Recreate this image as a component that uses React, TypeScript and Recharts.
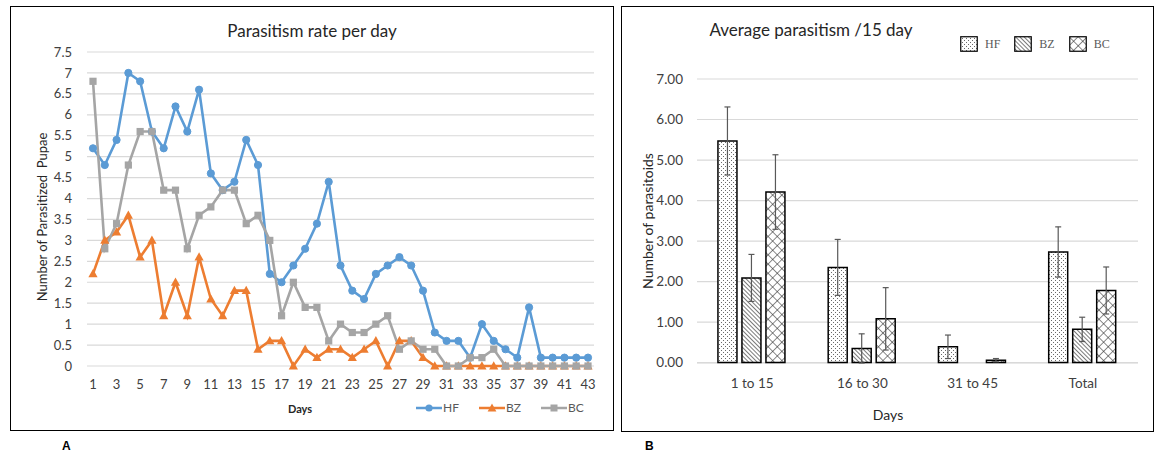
import React from 'react';
import { LineChart, Line, BarChart, Bar, ErrorBar, XAxis, YAxis, CartesianGrid } from 'recharts';

// panel A: parasitized pupae per day
const days = ['1', '2', '3', '4', '5', '6', '7', '8', '9', '10', '11', '12', '13', '14', '15', '16', '17', '18', '19', '20', '21', '22',
  '23', '24', '25', '26', '27', '28', '29', '30', '31', '32', '33', '34', '35', '36', '37', '38', '39', '40', '41', '42', '43'];
const hfDaily = [5.2, 4.8, 5.4, 7.0, 6.8, 5.6, 5.2, 6.2, 5.6, 6.6, 4.6, 4.2, 4.4, 5.4, 4.8, 2.2, 2.0, 2.4, 2.8, 3.4, 4.4, 2.4,
  1.8, 1.6, 2.2, 2.4, 2.6, 2.4, 1.8, 0.8, 0.6, 0.6, 0.2, 1.0, 0.6, 0.4, 0.2, 1.4, 0.2, 0.2, 0.2, 0.2, 0.2];
const bzDaily = [2.2, 3.0, 3.2, 3.6, 2.6, 3.0, 1.2, 2.0, 1.2, 2.6, 1.6, 1.2, 1.8, 1.8, 0.4, 0.6, 0.6, 0, 0.4, 0.2, 0.4, 0.4,
  0.2, 0.4, 0.6, 0, 0.6, 0.6, 0.2, 0, 0, 0, 0, 0, 0, 0, 0, 0, 0, 0, 0, 0, 0];
const bcDaily = [6.8, 2.8, 3.4, 4.8, 5.6, 5.6, 4.2, 4.2, 2.8, 3.6, 3.8, 4.2, 4.2, 3.4, 3.6, 3.0, 1.2, 2.0, 1.4, 1.4, 0.6, 1.0,
  0.8, 0.8, 1.0, 1.2, 0.4, 0.6, 0.4, 0.4, 0, 0, 0.2, 0.2, 0.4, 0, 0, 0, 0, 0, 0, 0, 0];
const dailyTicks = [0, 0.5, 1, 1.5, 2, 2.5, 3, 3.5, 4, 4.5, 5, 5.5, 6, 6.5, 7, 7.5];

// panel B: average per 15 days
const periods = ['1 to 15', '16 to 30', '31 to 45', 'Total'];
const hfMean = [5.47, 2.35, 0.39, 2.73];
const hfErr = [0.84, 0.69, 0.29, 0.62];
const bzMean = [2.09, 0.35, 0, 0.82];
const bzErr = [0.58, 0.36, 0, 0.3];
const bcMean = [4.21, 1.08, 0.06, 1.78];
const bcErr = [0.92, 0.77, 0.04, 0.58];
const avgTicks = [0, 1, 2, 3, 4, 5, 6, 7];

const dailyRows = days.map((d, i) => ({ day: d, HF: hfDaily[i], BZ: bzDaily[i], BC: bcDaily[i] }));
const periodRows = periods.map((p, i) => ({
  period: p, HF: hfMean[i], hfErr: hfErr[i], BZ: bzMean[i], bzErr: bzErr[i], BC: bcMean[i], bcErr: bcErr[i],
}));

const BLUE = '#5B9BD5';
const ORANGE = '#ED7D31';
const GRAY = '#A5A5A5';
const FONT = 'Lato, "Open Sans", sans-serif';

const circleDot = (props: any) => {
  const { cx, cy, index } = props;
  return <circle key={`hf-${index}`} cx={cx} cy={cy} r={3.6} fill={BLUE} stroke={BLUE} strokeWidth={1} />;
};
const triangleDot = (props: any) => {
  const { cx, cy, index } = props;
  return (
    <path key={`bz-${index}`} d={`M${cx},${cy - 4.8}L${cx + 4.6},${cy + 3.4}L${cx - 4.6},${cy + 3.4}Z`} fill={ORANGE} />
  );
};
const squareDot = (props: any) => {
  const { cx, cy, index } = props;
  return <rect key={`bc-${index}`} x={cx - 3.6} y={cy - 3.6} width={7.2} height={7.2} fill={GRAY} />;
};

const LineLegend = () => {
  const items = [
    { name: 'HF', color: BLUE, kind: 'circle' },
    { name: 'BZ', color: ORANGE, kind: 'tri' },
    { name: 'BC', color: GRAY, kind: 'square' },
  ];
  return (
    <div style={{ display: 'flex', gap: 20, fontFamily: FONT, fontSize: 12, color: '#595959' }}>
      {items.map((it) => (
        <div key={it.name} style={{ display: 'flex', alignItems: 'center' }}>
          <svg width={26} height={10}>
            <line x1={0} y1={5} x2={26} y2={5} stroke={it.color} strokeWidth={2.5} />
            {it.kind === 'circle' && <circle cx={13} cy={5} r={3.6} fill={it.color} />}
            {it.kind === 'tri' && <path d="M13,0.5L17.4,8.6L8.6,8.6Z" fill={it.color} />}
            {it.kind === 'square' && <rect x={9.5} y={1.5} width={7} height={7} fill={it.color} />}
          </svg>
          <span style={{ marginLeft: 1 }}>{it.name}</span>
        </div>
      ))}
    </div>
  );
};

const BarLegend = () => {
  const items = [
    { name: 'HF', fill: 'url(#patHF)' },
    { name: 'BZ', fill: 'url(#patBZ)' },
    { name: 'BC', fill: 'url(#patBC)' },
  ];
  return (
    <div style={{ display: 'flex', gap: 14, fontFamily: '"Liberation Serif", serif', fontSize: 12, color: '#595959' }}>
      {items.map((it) => (
        <div key={it.name} style={{ display: 'flex', alignItems: 'center' }}>
          <svg width={18} height={16}>
            <rect x={0.75} y={0.75} width={16.5} height={14.5} fill={it.fill} stroke="#000" strokeWidth={1.2} />
          </svg>
          <span style={{ marginLeft: 7 }}>{it.name}</span>
        </div>
      ))}
    </div>
  );
};

const abs = (left: number, top: number): React.CSSProperties => ({ position: 'absolute', left, top });

export default function App() {
  return (
    <div style={{ position: 'fixed', left: 0, top: 0, width: 1156, height: 453, background: '#fff', fontFamily: FONT, overflow: 'hidden' }}>
      {/* shared hatch patterns */}
      <svg width={0} height={0} style={{ position: 'absolute' }}>
        <defs>
          <pattern id="patHF" width={4} height={4} patternUnits="userSpaceOnUse">
            <rect width={4} height={4} fill="#fff" />
            <rect x={0} y={0} width={1} height={1} fill="#6a6a6a" />
            <rect x={2} y={2} width={1} height={1} fill="#6a6a6a" />
          </pattern>
          <pattern id="patBZ" width={3} height={3} patternUnits="userSpaceOnUse" patternTransform="rotate(-45)">
            <rect width={3} height={3} fill="#fff" />
            <line x1={0} y1={0} x2={0} y2={3} stroke="#222" strokeWidth={1.2} />
          </pattern>
          <pattern id="patBC" width={6.5} height={6.5} patternUnits="userSpaceOnUse" patternTransform="rotate(45)">
            <rect width={6.5} height={6.5} fill="#fff" />
            <line x1={0} y1={0} x2={0} y2={6.5} stroke="#2b2b2b" strokeWidth={1.1} />
            <line x1={0} y1={0} x2={6.5} y2={0} stroke="#2b2b2b" strokeWidth={1.1} />
          </pattern>
        </defs>
      </svg>

      {/* panel A */}
      <div style={abs(10, 6)}>
        <LineChart width={604} height={425} data={dailyRows} margin={{ top: 46, right: 20, left: 0, bottom: 0 }}>
          <CartesianGrid vertical={false} stroke="#D9D9D9" strokeWidth={1.2} />
          <XAxis
            dataKey="day"
            interval={1}
            height={65}
            padding={{ left: 6, right: 6 }}
            axisLine={false}
            tickLine={false}
            tickSize={0}
            tickMargin={14}
            tick={{ fill: '#404040', fontSize: 13, fontFamily: FONT }}
          />
          <YAxis
            domain={[0, 7.5]}
            ticks={dailyTicks}
            interval={0}
            width={77}
            axisLine={false}
            tickLine={false}
            tickSize={0}
            tickMargin={15}
            tick={{ fill: '#404040', fontSize: 13, fontFamily: FONT }}
          />
          <Line dataKey="HF" stroke={BLUE} strokeWidth={2.6} dot={circleDot} activeDot={false} isAnimationActive={false} />
          <Line dataKey="BZ" stroke={ORANGE} strokeWidth={2.6} dot={triangleDot} activeDot={false} isAnimationActive={false} />
          <Line dataKey="BC" stroke={GRAY} strokeWidth={2.6} dot={squareDot} activeDot={false} isAnimationActive={false} />
        </LineChart>
      </div>
      <div style={{ ...abs(416, 400) }}>
        <LineLegend />
      </div>
      <div style={{ ...abs(312, 30), transform: 'translate(-50%, -50%)', fontSize: 17, color: '#262626', whiteSpace: 'nowrap' }}>
        Parasitism rate per day
      </div>
      <div style={{ ...abs(42, 217), transform: 'translate(-50%, -50%) rotate(-90deg)', fontSize: 13, color: '#262626', whiteSpace: 'pre' }}>
        {'Number of Parasitized  Pupae'}
      </div>
      <div style={{ ...abs(300, 408), transform: 'translate(-50%, -50%)', fontSize: 11, fontWeight: 700, color: '#262626' }}>
        Days
      </div>

      {/* panel B */}
      <div style={abs(621, 6)}>
        <BarChart width={533} height={426} data={periodRows} margin={{ top: 73, right: 16, left: 0, bottom: 0 }}
          barCategoryGap="19%" barGap={5}>
          <CartesianGrid vertical={false} stroke="#D9D9D9" strokeWidth={1.2} />
          <XAxis
            dataKey="period"
            height={69}
            axisLine={false}
            tickLine={false}
            tickSize={0}
            tickMargin={15}
            tick={{ fill: '#404040', fontSize: 13.5, fontFamily: FONT }}
          />
          <YAxis
            domain={[0, 7]}
            ticks={avgTicks}
            interval={0}
            width={76}
            axisLine={false}
            tickLine={false}
            tickSize={0}
            tickMargin={14}
            tickFormatter={(v: number) => v.toFixed(2)}
            tick={{ fill: '#404040', fontSize: 13.5, fontFamily: FONT }}
          />
          <Bar dataKey="HF" fill="url(#patHF)" stroke="#000" strokeWidth={1.5} isAnimationActive={false}>
            <ErrorBar dataKey="hfErr" width={3} stroke="#595959" strokeWidth={1.2} direction="y" isAnimationActive={false} />
          </Bar>
          <Bar dataKey="BZ" fill="url(#patBZ)" stroke="#000" strokeWidth={1.5} isAnimationActive={false}>
            <ErrorBar dataKey="bzErr" width={3} stroke="#595959" strokeWidth={1.2} direction="y" isAnimationActive={false} />
          </Bar>
          <Bar dataKey="BC" fill="url(#patBC)" stroke="#000" strokeWidth={1.5} isAnimationActive={false}>
            <ErrorBar dataKey="bcErr" width={3} stroke="#595959" strokeWidth={1.2} direction="y" isAnimationActive={false} />
          </Bar>
        </BarChart>
      </div>
      <div style={{ ...abs(960, 36) }}>
        <BarLegend />
      </div>
      <div style={{ ...abs(811, 29), transform: 'translate(-50%, -50%)', fontSize: 17, color: '#262626', whiteSpace: 'nowrap' }}>
        Average parasitism /15 day
      </div>
      <div style={{ ...abs(647, 221), transform: 'translate(-50%, -50%) rotate(-90deg)', fontSize: 14, color: '#262626', whiteSpace: 'nowrap' }}>
        Number of parasitoids
      </div>
      <div style={{ ...abs(888, 414), transform: 'translate(-50%, -50%)', fontSize: 14, color: '#262626' }}>
        Days
      </div>

      {/* frames and panel letters */}
      <div style={{ ...abs(10, 6), width: 604, height: 425, border: '1.5px solid #000', boxSizing: 'border-box', pointerEvents: 'none' }} />
      <div style={{ ...abs(621, 6), width: 533, height: 426, border: '1.5px solid #000', boxSizing: 'border-box', pointerEvents: 'none' }} />
      <div style={{ ...abs(62, 439), fontFamily: '"Liberation Sans", Arial, sans-serif', fontWeight: 700, fontSize: 12 }}>A</div>
      <div style={{ ...abs(645, 439), fontFamily: '"Liberation Sans", Arial, sans-serif', fontWeight: 700, fontSize: 12 }}>B</div>
    </div>
  );
}
